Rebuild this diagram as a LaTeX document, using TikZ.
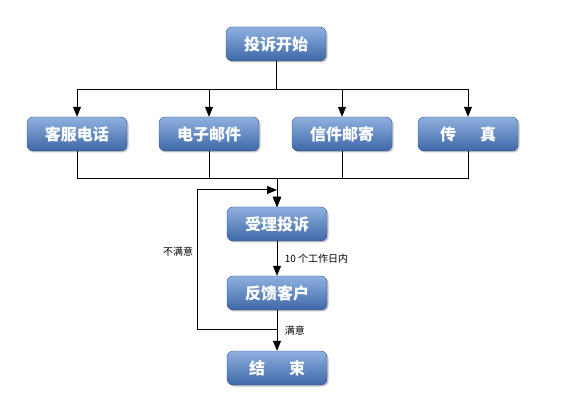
\documentclass[tikz,border=0pt]{standalone}
\usepackage{fontspec}
\newfontfamily\cjk{Noto Sans CJK SC}
\definecolor{boxtop}{HTML}{8FB1E0}
\definecolor{boxbot}{HTML}{3E67A7}
\definecolor{boxline}{HTML}{35598F}
\usetikzlibrary{calc, positioning, shadows, arrows.meta}

\begin{document}
\begin{tikzpicture}[
  x=1pt, y=-1pt,
  stage/.style={draw=boxline, top color=boxtop, bottom color=boxbot,
                rounded corners=6pt, minimum width=100pt, minimum height=34pt,
                font=\cjk\bfseries\fontsize{16}{18}\selectfont, text=white,
                drop shadow={shadow xshift=1.5pt, shadow yshift=-1.5pt, opacity=0.45}},
  arr/.style={-{Triangle[length=10pt, width=8pt]}, line width=1pt, black},
  note/.style={font=\cjk\fontsize{10}{11}\selectfont},
]
\useasboundingbox (0,0) rectangle (576,406);

% nodes
\node[stage] (start) at (276,44) {投诉开始};
\node[stage] (phone) at (77,134) {客服电话};
\node[stage] (email) at (209,134) {电子邮件};
\node[stage] (letter) at (342,134) {信件邮寄};
\node[stage] (fax) at (468,134) {传\hspace{1.5em}真};
\node[stage] (accept) at (277,224) {受理投诉};
\node[stage] (feedback) at (277,293) {反馈客户};
\node[stage] (finish) at (277,368) {结\hspace{1.5em}束};

\coordinate (split) at (0,90);
\coordinate (merge) at (0,179);
\coordinate (nok) at (197,329);
\coordinate (back) at (277,190);

% branches
\foreach \n in {phone, email, letter, fax} {
  \draw[arr] (start.south) |- (split -| \n) -- (\n.north);
  \draw[arr] (\n.south) |- (accept.north |- merge) -- (accept.north);
}

\draw[arr] (accept) -- node[note, right, xshift=4pt] {10 个工作日内} (feedback);
\draw[arr] (feedback) -- node[note, right, pos=0.5, xshift=4pt] {满意} (finish);
\draw[arr] (feedback.south |- nok) -- (nok) |- node[note, left, pos=0.28] {不满意} (back);
\end{tikzpicture}
\end{document}
